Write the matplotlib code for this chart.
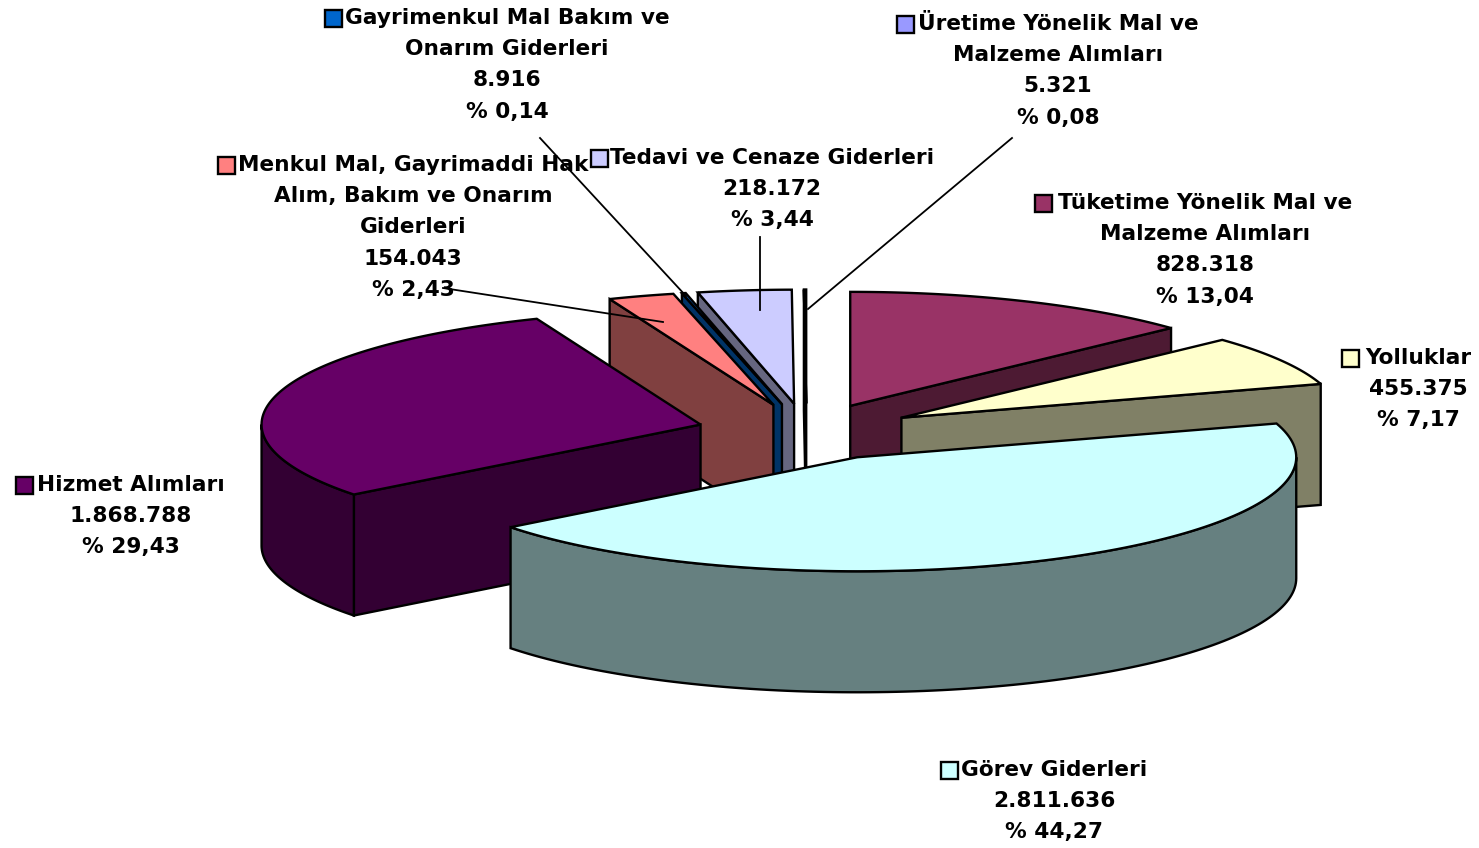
import numpy as np
import matplotlib.pyplot as plt
from matplotlib.patches import Polygon, Rectangle

# Budget items, clockwise from 12 o'clock
names = ['Tüketime', 'Yolluklar', 'Görev', 'Hizmet', 'Menkul', 'Gayrimenkul', 'Tedavi', 'Üretime']
values = [828318, 455375, 2811636, 1868788, 154043, 8916, 218172, 5321]
top_colors = ['#993366', '#FFFFCC', '#CCFFFF', '#660066', '#FF8080', '#0066CC', '#CCCCFF', '#9999FF']
side_colors = ['#4D1A33', '#808066', '#668080', '#330033', '#804040', '#003366', '#666680', '#4D4D80']

label_lines = [
    ['Tüketime Yönelik Mal ve', 'Malzeme Alımları', '828.318', '% 13,04'],
    ['Yolluklar', '455.375', '% 7,17'],
    ['Görev Giderleri', '2.811.636', '% 44,27'],
    ['Hizmet Alımları', '1.868.788', '% 29,43'],
    ['Menkul Mal, Gayrimaddi Hak', 'Alım, Bakım ve Onarım', 'Giderleri', '154.043', '% 2,43'],
    ['Gayrimenkul Mal Bakım ve', 'Onarım Giderleri', '8.916', '% 0,14'],
    ['Tedavi ve Cenaze Giderleri', '218.172', '% 3,44'],
    ['Üretime Yönelik Mal ve', 'Malzeme Alımları', '5.321', '% 0,08'],
]

# label layout: centre x, first line y, key left edge
label_x = [1205, 1418, 1054, 131, 413, 507, 772, 1058]
label_y = [203, 358, 770, 485, 165, 18, 158, 24]
key_x = [1035, 1342, 941, 16, 218, 325, 591, 897]

# leader lines for the labels that sit away from their slice
leaders = [((443, 288), (663, 322)), ((540, 138), (686, 296)),
           ((760, 237), (760, 310)), ((1012, 138), (808, 309))]

draw_order = [7, 0, 1, 6, 5, 4, 3, 2]

cx, cy = 806.5, 432
rx, ry = 439, 114
depth = 121
explode = 0.25
line_h = 31.2


def ell(center, theta):
    # theta in degrees, clockwise from top
    t = np.radians(theta)
    return center[0] + rx * np.sin(t), center[1] - ry * np.cos(t)


def side_face(center, theta, color):
    p = ell(center, theta)
    face = [center, p, (p[0], p[1] + depth), (center[0], center[1] + depth)]
    ax.add_patch(Polygon(face, facecolor=color, edgecolor='black', linewidth=1.7))


fig = plt.figure(figsize=(14.79, 8.48), dpi=100)
ax = fig.add_axes([0, 0, 1, 1])
ax.set_xlim(0, 1479)
ax.set_ylim(848, 0)
ax.axis('off')

edges = np.cumsum([0] + values) / sum(values) * 360

for i in draw_order:
    a1, a2 = edges[i], edges[i + 1]
    m = np.radians((a1 + a2) / 2)
    c = (cx + explode * rx * np.sin(m), cy - explode * ry * np.cos(m))

    # only the flat faces that look towards the viewer
    if np.sin(np.radians(a1)) < 0:
        side_face(c, a1, side_colors[i])
    if np.sin(np.radians(a2)) > 0:
        side_face(c, a2, side_colors[i])

    # outer rim, only the front part of the ellipse
    lo, hi = max(a1, 90), min(a2, 270)
    if lo < hi:
        th = np.linspace(lo, hi, 120)
        x, y = ell(c, th)
        rim = np.r_[np.c_[x, y], np.c_[x, y + depth][::-1]]
        ax.add_patch(Polygon(rim, facecolor=side_colors[i], edgecolor='black', linewidth=1.7))

    th = np.linspace(a1, a2, 120)
    x, y = ell(c, th)
    top = np.r_[[c], np.c_[x, y]]
    ax.add_patch(Polygon(top, facecolor=top_colors[i], edgecolor='black', linewidth=1.7))

for i in range(len(names)):
    for j, line in enumerate(label_lines[i]):
        ax.text(label_x[i], label_y[i] + j * line_h, line, ha='center', va='center',
                fontsize=15.6, fontweight='bold', family='DejaVu Sans', color='black')
    ax.add_patch(Rectangle((key_x[i], label_y[i] - 8.5), 17, 17, facecolor=top_colors[i],
                           edgecolor='black', linewidth=1.7))

for start, end in leaders:
    ax.plot([start[0], end[0]], [start[1], end[1]], color='black', linewidth=1.3)

fig.savefig('out.png', dpi=100)
